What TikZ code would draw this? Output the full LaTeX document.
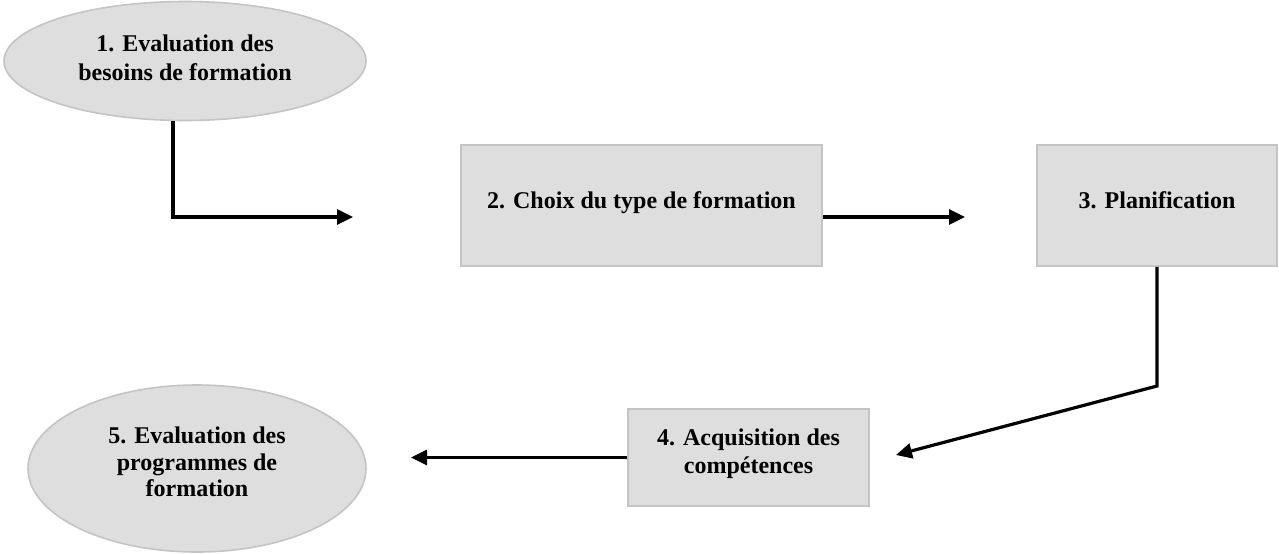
\documentclass[tikz,border=0pt]{standalone}
\usepackage{fontspec}
\setmainfont{Liberation Serif}
\usetikzlibrary{shapes.geometric,arrows.meta}
\definecolor{boxfill}{HTML}{DEDEDE}
\definecolor{boxline}{HTML}{C4C4C4}
\begin{document}
\begin{tikzpicture}[x=0.5pt,y=-0.5pt,
oval/.style={%
ellipse,
fill=boxfill,
draw=boxline,
line width=0.8pt,
inner sep=0pt,
align=center,
font=\bfseries\fontsize{12}{14}\selectfont
},
stage/.style={%
rectangle,
fill=boxfill,
draw=boxline,
line width=0.8pt,
inner sep=0pt,
align=center,
font=\bfseries\fontsize{12}{14}\selectfont
},
flow/.style={%
line width=1.6pt,
-{Triangle[length=8pt,width=7.5pt]}
},
]
\useasboundingbox (0,0) rectangle (1279,553);
%% Stages
\node[oval,minimum width=181pt,minimum height=59.5pt,font=\bfseries\fontsize{12}{14.5}\selectfont]at(185,61)(besoins){1. Evaluation des\\besoins de formation\\[-11pt]};
\node[stage,minimum width=180.5pt,minimum height=60.5pt]at(641.5,205.5)(choix){2. Choix du type de formation\\[-8.5pt]};
\node[stage,minimum width=120pt,minimum height=60.5pt]at(1157,205.5)(plan){3. Planification\\[-8.5pt]};
\node[stage,minimum width=120.5pt,minimum height=48.5pt]at(748.5,457.5)(acq){4. Acquisition des\\compétences\\[-7.5pt]};
\node[oval,minimum width=169pt,minimum height=83.5pt,font=\bfseries\fontsize{12}{13.25}\selectfont]at(197,468.5)(prog){5. Evaluation des\\programmes de\\formation\\[-6.5pt]};
%% Free ends
\coordinate (t1) at (353,217);
\coordinate (t2) at (965,217);
\coordinate (k3) at (1157,386);
\coordinate (t3) at (896,455);
\coordinate (t4) at (411,458);
%% Connectors
\draw[flow] ([xshift=-6pt]besoins.south) |- (t1);
\draw[flow] (choix.east |- t2) -- (t2);
\draw[flow] (plan.south) -- (k3) -- (t3);
\draw[flow] (acq.west) -- (acq.west -| t4);
\end{tikzpicture}
\end{document}
